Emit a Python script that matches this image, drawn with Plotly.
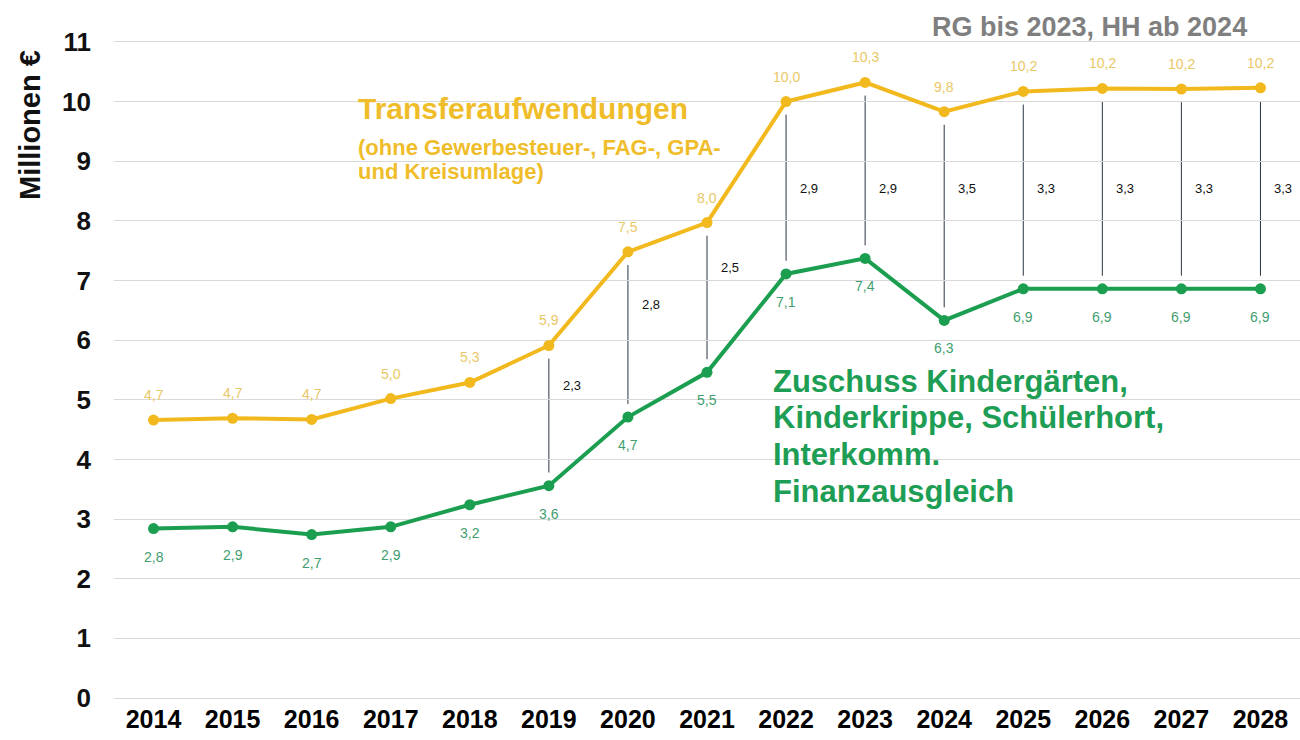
import plotly.graph_objects as go

years = [2014, 2015, 2016, 2017, 2018, 2019, 2020, 2021, 2022, 2023, 2024, 2025, 2026, 2027, 2028]
transfer = [4.66, 4.69, 4.67, 5.02, 5.29, 5.91, 7.48, 7.97, 10.00, 10.32, 9.83, 10.17, 10.22, 10.21, 10.23]
zuschuss = [2.84, 2.87, 2.74, 2.87, 3.24, 3.56, 4.71, 5.46, 7.11, 7.37, 6.33, 6.86, 6.86, 6.86, 6.86]
diff_years = [2019, 2020, 2021, 2022, 2023, 2024, 2025, 2026, 2027, 2028]
diff_values = [2.3, 2.8, 2.5, 2.9, 2.9, 3.5, 3.3, 3.3, 3.3, 3.3]
y_ticks = list(range(0, 12))
transfer_lines = ["(ohne Gewerbesteuer-, FAG-, GPA-", "und Kreisumlage)"]
zuschuss_lines = ["Zuschuss Kindergärten,", "Kinderkrippe, Schülerhort,", "Interkomm.", "Finanzausgleich"]

YELLOW = "#F2B91E"
YELLOW_LBL = "#E9C766"
YELLOW_TXT = "#F0BD2A"
GREEN = "#1B9E50"
GREEN_LBL = "#3F9E6F"
GREEN_TXT = "#1E9E55"
FONT = "Liberation Sans, Arial, sans-serif"

W, H = 1300, 740
ML, MR, MT, MB = 114, 0, 24, 42
PLOT_H = H - MT - MB
Y_MAX = 11.3


def fmt(v):
    return f"{v:.1f}".replace(".", ",")


def py(pixel_y):
    """page pixel row -> y data value"""
    return (H - MB - pixel_y) / PLOT_H * Y_MAX


def px(pixel_x):
    """page pixel column -> paper x"""
    return (pixel_x - ML) / (W - ML - MR)


fig = go.Figure()

lookup_t = dict(zip(years, transfer))
lookup_z = dict(zip(years, zuschuss))
for yr in diff_years:
    fig.add_shape(type="line", xref="x", yref="y",
                  x0=yr, x1=yr, y0=lookup_t[yr] - 0.22, y1=lookup_z[yr] + 0.22,
                  line=dict(color="#2B3645", width=1), layer="below")

fig.add_trace(go.Scatter(x=years, y=transfer, mode="lines+markers",
                         line=dict(color=YELLOW, width=4),
                         marker=dict(color=YELLOW, size=11),
                         hoverinfo="skip", showlegend=False))
fig.add_trace(go.Scatter(x=years, y=zuschuss, mode="lines+markers",
                         line=dict(color=GREEN, width=4),
                         marker=dict(color=GREEN, size=11),
                         hoverinfo="skip", showlegend=False))

annotations = []
for x, v in zip(years, transfer):
    annotations.append(dict(x=x, y=v, xref="x", yref="y", text=fmt(v), showarrow=False,
                            yshift=25, font=dict(family=FONT, size=14, color=YELLOW_LBL)))
for x, v in zip(years, zuschuss):
    annotations.append(dict(x=x, y=v, xref="x", yref="y", text=fmt(v), showarrow=False,
                            yshift=-28, font=dict(family=FONT, size=14, color=GREEN_LBL)))
for yr, d in zip(diff_years, diff_values):
    mid = (lookup_t[yr] + lookup_z[yr]) / 2
    ly = min(mid + 0.5, 8.55)
    annotations.append(dict(x=yr, y=ly, xref="x", yref="y", text=fmt(d), showarrow=False,
                            xanchor="left", xshift=12,
                            font=dict(family=FONT, size=13, color="#111111")))

annotations += [
    dict(text="Millionen €", textangle=-90, xref="paper", yref="y", x=0, y=py(125),
         xshift=-84, showarrow=False, xanchor="center", yanchor="middle",
         font=dict(family=FONT, size=29, color="#111111", weight="bold")),
    dict(text="RG bis 2023, HH ab 2024", xref="paper", yref="y", x=px(1089), y=py(27),
         showarrow=False, xanchor="center", yanchor="middle",
         font=dict(family=FONT, size=27, color="#7F7F7F", weight="bold")),
    dict(text="Transferaufwendungen", xref="paper", yref="y", x=px(356), y=py(108),
         showarrow=False, xanchor="left", yanchor="middle",
         font=dict(family=FONT, size=30, color=YELLOW_TXT, weight="bold")),
]
for i, line in enumerate(transfer_lines):
    annotations.append(dict(text=line, xref="paper", yref="y", x=px(356), y=py(147 + 24 * i),
                            showarrow=False, xanchor="left", yanchor="middle",
                            font=dict(family=FONT, size=22, color=YELLOW_TXT, weight="bold")))
for i, line in enumerate(zuschuss_lines):
    annotations.append(dict(text=line, xref="paper", yref="y", x=px(771), y=py(381 + 36.7 * i),
                            showarrow=False, xanchor="left", yanchor="middle",
                            font=dict(family=FONT, size=31, color=GREEN_TXT, weight="bold")))

fig.update_layout(
    width=W, height=H,
    margin=dict(l=ML, r=MR, t=MT, b=MB),
    paper_bgcolor="white", plot_bgcolor="white",
    annotations=annotations,
    showlegend=False,
)
fig.update_xaxes(range=[2013.5, 2028.5], tickvals=years, ticktext=[str(y) for y in years],
                 showgrid=False, zeroline=False, showline=False, ticks="",
                 ticklabelstandoff=4,
                 tickfont=dict(family=FONT, size=25, color="#000000", weight="bold"))
fig.update_yaxes(range=[0, Y_MAX], tickvals=y_ticks, showgrid=True, gridcolor="#D9D9D9",
                 gridwidth=1, zeroline=True, zerolinecolor="#D9D9D9", zerolinewidth=1,
                 showline=False, ticks="", ticklabelstandoff=22,
                 tickfont=dict(family=FONT, size=26, color="#111111", weight="bold"))

fig.write_html("out.html", config={"displayModeBar": False},
               post_script="document.body.style.margin='0';")
